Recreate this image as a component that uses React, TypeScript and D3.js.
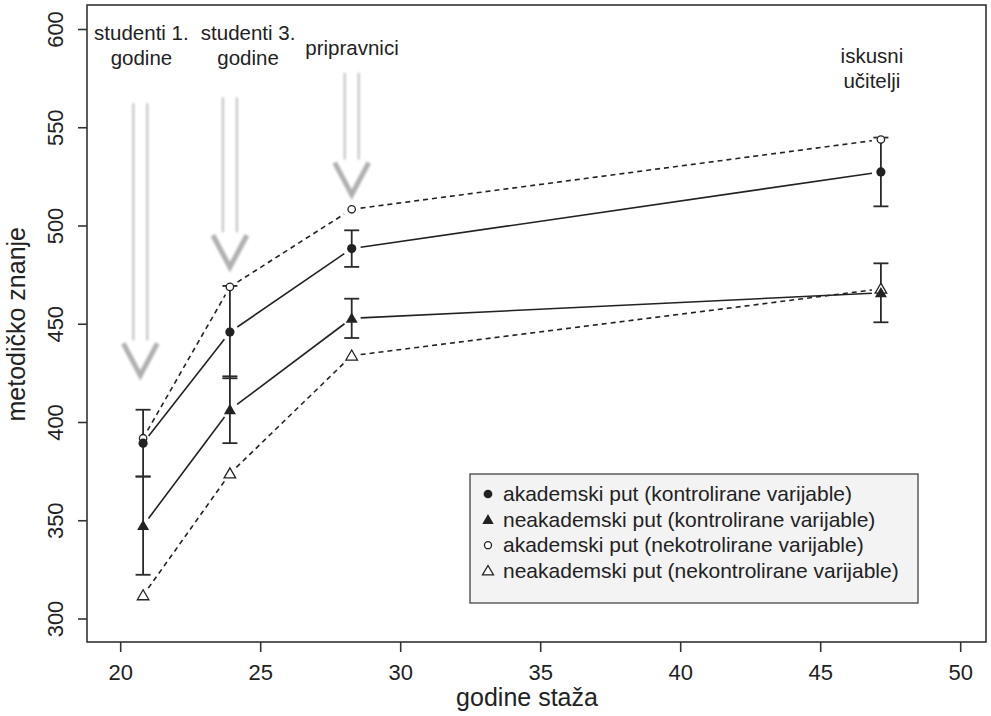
import React from 'react';
import * as d3 from 'd3';

// godine staža (x) for the four groups
const groupX = [20.8, 23.9, 28.25, 47.15];

const akadKontr = [389.5, 446, 488.5, 527.5];
const akadKontrErr = [17, 23.5, 9.3, 17.5];
const neakKontr = [347.5, 406.5, 453, 466];
const neakKontrErr = [25, 17, 10, 15];
const akadNekontr = [392, 469, 508.5, 544];
const neakNekontr = [312, 374, 434, 468];

const xTicks = [20, 25, 30, 35, 40, 45, 50];
const yTicks = [300, 350, 400, 450, 500, 550, 600];

// annotations above the groups
const noteLines = [['studenti 1.', 'godine'], ['studenti 3.', 'godine'], ['pripravnici'], ['iskusni', 'učitelji']];
const noteX = [20.74, 24.55, 28.26, 46.83];
const noteY = [594.7, 594.7, 587, 583];

// grey arrows pointing at the first three groups
const arrowX = [20.7, 23.9, 28.25];
const arrowTop = [562.5, 565.5, 578];
const arrowTip = [424, 479, 516];

const legendLabels = [
  'akademski put (kontrolirane varijable)',
  'neakademski put (kontrolirane varijable)',
  'akademski put (nekotrolirane varijable)',
  'neakademski put (nekontrolirane varijable)',
];
const legendShapes = ['dot', 'tri', 'circle', 'opentri'];

const W = 991;
const H = 716;
const box = { left: 87, right: 986, top: 5, bottom: 642 };
const FONT = '"Liberation Sans", Arial, Helvetica, sans-serif';
const INK = '#222';

const x = d3.scaleLinear().domain([20, 50]).range([120.7, 960.7]);
const y = d3.scaleLinear().domain([300, 600]).range([619, 29.5]);

function segments(values: number[], gap: number) {
  const out: [number, number, number, number][] = [];
  for (let i = 0; i < values.length - 1; i++) {
    const x1 = x(groupX[i]), y1 = y(values[i]);
    const x2 = x(groupX[i + 1]), y2 = y(values[i + 1]);
    const len = Math.hypot(x2 - x1, y2 - y1);
    const ux = (x2 - x1) / len, uy = (y2 - y1) / len;
    out.push([x1 + ux * gap, y1 + uy * gap, x2 - ux * gap, y2 - uy * gap]);
  }
  return out;
}

function Symbol({ kind, cx, cy, s = 1 }: { kind: string; cx: number; cy: number; s?: number }) {
  if (kind === 'dot') return <circle cx={cx} cy={cy} r={4.6 * s} fill={INK} />;
  if (kind === 'circle')
    return <circle cx={cx} cy={cy} r={3.7 * s} fill="white" stroke={INK} strokeWidth={1.3} />;
  const tri = d3.symbol().type(d3.symbolTriangle).size(kind === 'tri' ? 62 * s * s : 58 * s * s)();
  if (kind === 'tri') return <path d={tri!} transform={`translate(${cx},${cy + 1})`} fill={INK} />;
  return (
    <path d={tri!} transform={`translate(${cx},${cy + 1})`} fill="white" stroke={INK} strokeWidth={1.3} />
  );
}

export default function App() {
  const solidA = segments(akadKontr, 9);
  const solidN = segments(neakKontr, 9);
  const dashA = segments(akadNekontr, 9);
  const dashN = segments(neakNekontr, 9);

  const capW = 7.5;
  const errBars = [
    ...akadKontr.map((v, i) => ({ gx: groupX[i], lo: v - akadKontrErr[i], hi: v + akadKontrErr[i] })),
    ...neakKontr.map((v, i) => ({ gx: groupX[i], lo: v - neakKontrErr[i], hi: v + neakKontrErr[i] })),
  ];

  return (
    <svg
      width={W}
      height={H}
      style={{ position: 'absolute', left: 0, top: 0, background: 'white' }}
      fontFamily={FONT}
    >
      <defs>
        <filter id="soft" x="-20%" y="-20%" width="140%" height="140%">
          <feGaussianBlur stdDeviation="1" />
        </filter>
      </defs>
      <rect width={W} height={H} fill="white" />

      {/* arrows */}
      <g filter="url(#soft)">
        {arrowX.map((ax, i) => {
          const cx = x(ax);
          const tipY = y(arrowTip[i]);
          const headTop = tipY - 32;
          return (
            <g key={i}>
              <line x1={cx - 7} x2={cx - 7} y1={y(arrowTop[i])} y2={headTop - 3} stroke="#c4c4c4" strokeWidth={2.2} />
              <line x1={cx + 7} x2={cx + 7} y1={y(arrowTop[i])} y2={headTop - 3} stroke="#c4c4c4" strokeWidth={2.2} />
              <polyline
                points={`${cx - 17},${headTop} ${cx},${tipY} ${cx + 17},${headTop}`}
                fill="none"
                stroke="#b0b0b0"
                strokeWidth={5}
                strokeLinejoin="miter"
              />
            </g>
          );
        })}
      </g>

      {/* annotations */}
      {noteLines.map((lines, i) => (
        <text key={i} x={x(noteX[i])} y={y(noteY[i])} textAnchor="middle" fontSize={20.5} fill={INK}>
          {lines.map((l, j) => (
            <tspan key={j} x={x(noteX[i])} dy={j === 0 ? 0 : 25}>
              {l}
            </tspan>
          ))}
        </text>
      ))}

      {/* connecting lines */}
      {[...solidA, ...solidN].map((s, i) => (
        <line key={'s' + i} x1={s[0]} y1={s[1]} x2={s[2]} y2={s[3]} stroke={INK} strokeWidth={1.6} />
      ))}
      {[...dashA, ...dashN].map((s, i) => (
        <line
          key={'d' + i}
          x1={s[0]}
          y1={s[1]}
          x2={s[2]}
          y2={s[3]}
          stroke={INK}
          strokeWidth={1.6}
          strokeDasharray="5,4"
        />
      ))}

      {/* error bars */}
      {errBars.map((e, i) => {
        const cx = x(e.gx);
        return (
          <g key={'e' + i} stroke="#2a2a2a" strokeWidth={1.8}>
            <line x1={cx} x2={cx} y1={y(e.lo)} y2={y(e.hi)} />
            <line x1={cx - capW} x2={cx + capW} y1={y(e.lo)} y2={y(e.lo)} />
            <line x1={cx - capW} x2={cx + capW} y1={y(e.hi)} y2={y(e.hi)} />
          </g>
        );
      })}

      {/* points */}
      {akadNekontr.map((v, i) => <Symbol key={'c' + i} kind="circle" cx={x(groupX[i])} cy={y(v)} />)}
      {neakNekontr.map((v, i) => <Symbol key={'o' + i} kind="opentri" cx={x(groupX[i])} cy={y(v)} />)}
      {akadKontr.map((v, i) => <Symbol key={'a' + i} kind="dot" cx={x(groupX[i])} cy={y(v)} />)}
      {neakKontr.map((v, i) => <Symbol key={'n' + i} kind="tri" cx={x(groupX[i])} cy={y(v)} />)}

      {/* frame */}
      <rect
        x={box.left}
        y={box.top}
        width={box.right - box.left}
        height={box.bottom - box.top}
        fill="none"
        stroke="#333"
        strokeWidth={1.6}
      />

      {/* x axis */}
      {xTicks.map((t) => (
        <g key={'xt' + t}>
          <line x1={x(t)} x2={x(t)} y1={box.bottom} y2={box.bottom + 10} stroke="#333" strokeWidth={1.6} />
          <text x={x(t)} y={680} textAnchor="middle" fontSize={22} fill={INK}>
            {t}
          </text>
        </g>
      ))}
      <text x={527} y={706} textAnchor="middle" fontSize={25} fill={INK}>
        godine staža
      </text>

      {/* y axis */}
      {yTicks.map((t) => (
        <g key={'yt' + t}>
          <line x1={box.left - 9} x2={box.left} y1={y(t)} y2={y(t)} stroke="#333" strokeWidth={1.6} />
          <text
            transform={`translate(63,${y(t)}) rotate(-90)`}
            textAnchor="middle"
            fontSize={22}
            fill={INK}
          >
            {t}
          </text>
        </g>
      ))}
      <text transform={`translate(25,${y(450)}) rotate(-90)`} textAnchor="middle" fontSize={25} fill={INK}>
        metodičko znanje
      </text>

      {/* legend */}
      <rect x={470} y={474} width={448} height={129} fill="#f3f3f3" stroke="#444" strokeWidth={1.3} />
      {legendLabels.map((l, i) => {
        const cy = 494 + i * 25.6;
        return (
          <g key={'lg' + i}>
            <Symbol kind={legendShapes[i]} cx={488} cy={cy} s={0.95} />
            <text x={503} y={cy + 7} fontSize={21} fill={INK}>
              {l}
            </text>
          </g>
        );
      })}
    </svg>
  );
}
